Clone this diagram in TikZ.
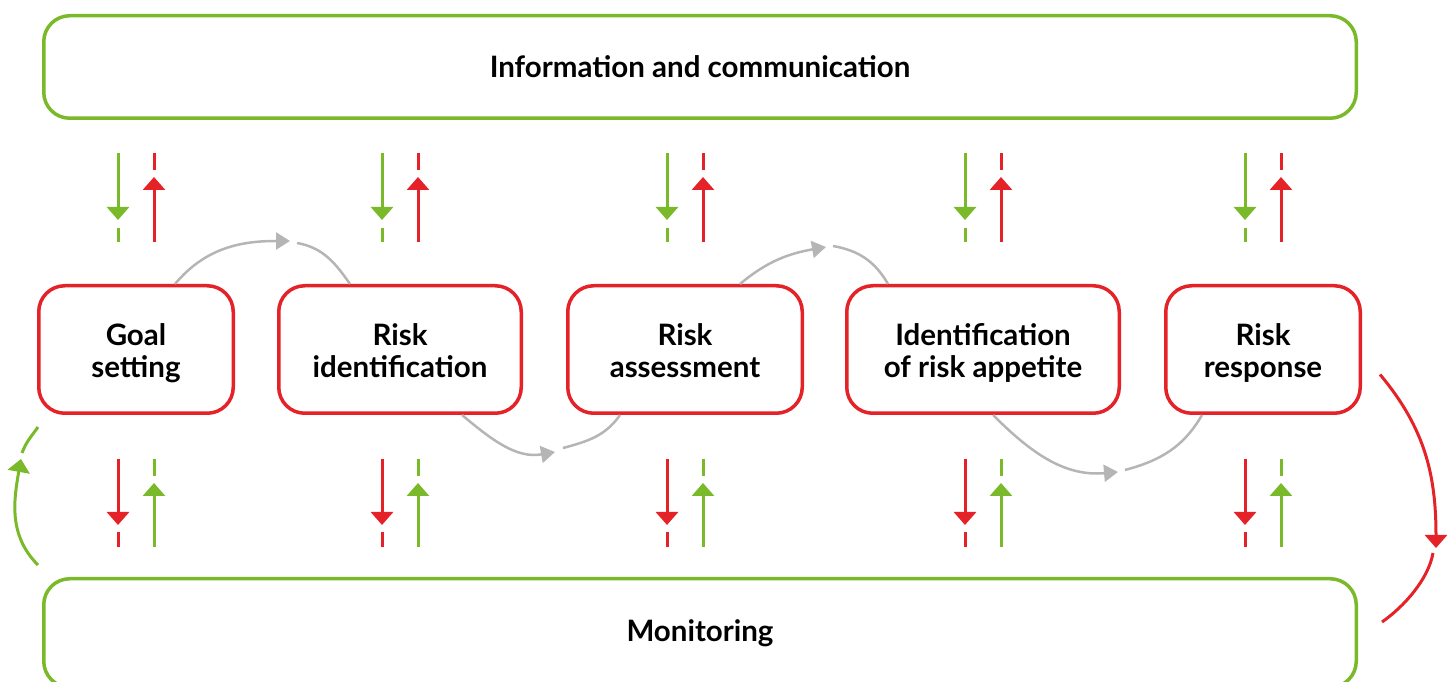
\documentclass[tikz,border=0pt]{standalone}
\usepackage{fontspec}
\newfontfamily\boxfont{Lato}
\usetikzlibrary{arrows.meta}
\definecolor{leafgreen}{HTML}{7AB929}
\definecolor{alertred}{HTML}{E42228}
\definecolor{flowgray}{HTML}{B5B5B5}
\newcommand{\twolines}[2]{\rule{0pt}{34.4pt}#1\\#2\strut}

\begin{document}
\begin{tikzpicture}[x=1pt, y=1pt,
    every node/.style={font=\boxfont\bfseries\fontsize{29.5}{32}\selectfont, align=center},
    bar/.style={draw=leafgreen, line width=3.5pt, rounded corners=26pt, minimum width=1312.5pt, minimum height=102.5pt},
    stage/.style={draw=alertred, line width=3.5pt, rounded corners=26pt, minimum height=127.5pt},
    gline/.style={leafgreen, line width=3pt},
    rline/.style={alertred, line width=3pt},
    flow/.style={flowgray, line width=2.5pt},
    tip/.style={-{Triangle[length=13pt, width=22pt]}},
    ftip/.style={-{Triangle[length=14pt, width=17pt]}}]
    \useasboundingbox (0, 0) rectangle (1451, 682);
    \clip (0, 0) rectangle (1451, 682);
    \node[bar] (info) at (700, 615) {Information and communication};
    \node[bar, minimum height=108.5pt] (mon) at (700, 49) {Monitoring};
    \node[stage, minimum width=194.5pt] (goal) at (136, 332.5) {\twolines{Goal}{setting}};
    \node[stage, minimum width=242.5pt] (rid) at (400, 332.5) {\twolines{Risk}{identification}};
    \node[stage, minimum width=234.5pt] (ras) at (685, 332.5) {\twolines{Risk}{assessment}};
    \node[stage, minimum width=272.5pt] (ira) at (983, 332.5) {\twolines{Identification}{of risk appetite}};
    \node[stage, minimum width=194.5pt] (rre) at (1263, 332.5) {\twolines{Risk}{response}};
    \foreach \b in {goal, rid, ras, ira, rre} {
      \draw[gline, tip] ([shift={(-18pt, 131pt)}]\b.north) -- ([shift={(-18pt, 64pt)}]\b.north);
      \draw[gline] ([shift={(-18pt, 56pt)}]\b.north) -- ([shift={(-18pt, 42pt)}]\b.north);
      \draw[rline, tip] ([shift={(18pt, 42pt)}]\b.north) -- ([shift={(18pt, 107pt)}]\b.north);
      \draw[rline] ([shift={(18pt, 114pt)}]\b.north) -- ([shift={(18pt, 131pt)}]\b.north);
      \draw[rline, tip] ([shift={(-18pt, -44pt)}]\b.south) -- ([shift={(-18pt, -110pt)}]\b.south);
      \draw[rline] ([shift={(-18pt, -117pt)}]\b.south) -- ([shift={(-18pt, -132pt)}]\b.south);
      \draw[gline, tip] ([shift={(18pt, -132pt)}]\b.south) -- ([shift={(18pt, -68pt)}]\b.south);
      \draw[gline] ([shift={(18pt, -61pt)}]\b.south) -- ([shift={(18pt, -44pt)}]\b.south);
    }
    \coordinate (ga) at (290, 441);
    \coordinate (gb) at (297, 439);
    \coordinate (gc) at (555, 230);
    \coordinate (gd) at (563, 234);
    \coordinate (ge) at (826, 435);
    \coordinate (gf) at (833, 436);
    \coordinate (gg) at (1118, 210);
    \coordinate (gh) at (1125, 212);
    \draw[flow, ftip] ([xshift=39pt]goal.north) to[out=50, in=180] (ga);
    \draw[flow] (gb) to[out=-10, in=125] ([xshift=-50pt]rid.north);
    \draw[flow, ftip] ([xshift=62pt]rid.south) to[out=-40, in=190] (gc);
    \draw[flow] (gd) to[out=15, in=-125] ([xshift=-65pt]ras.south);
    \draw[flow, ftip] ([xshift=55pt]ras.north) to[out=40, in=190] (ge);
    \draw[flow] (gf) to[out=-10, in=120] ([xshift=-95pt]ira.north);
    \draw[flow, ftip] ([xshift=10pt]ira.south) to[out=-45, in=185] (gg);
    \draw[flow] (gh) to[out=15, in=-120] ([xshift=-61pt]rre.south);
    \coordinate (ra) at (1436, 134);
    \coordinate (rb) at (1433, 129);
    \draw[rline, tip] ([shift={(18pt, -25pt)}]rre.east) to[out=-50, in=90] (ra);
    \draw[rline] (rb) to[out=-100, in=35, looseness=0.8] ([shift={(24pt, 11pt)}]mon.east);
    \coordinate (la) at (21, 223);
    \coordinate (lb) at (22, 229);
    \draw[gline, tip] ([shift={(-4pt, 68pt)}]mon.west) to[out=135, in=-100] (la);
    \draw[gline] (lb) to[out=70, in=-125] ([shift={(1pt, -12pt)}]goal.south west);
  \end{tikzpicture}
\end{document}
